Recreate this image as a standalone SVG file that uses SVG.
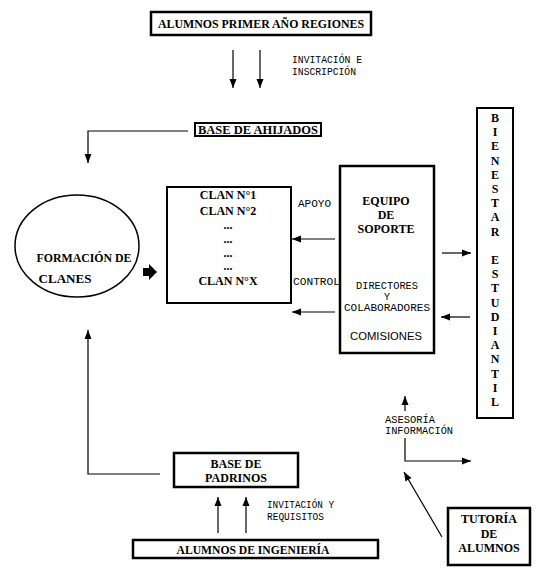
<svg xmlns="http://www.w3.org/2000/svg" width="541" height="575" viewBox="0 0 541 575">
<defs>
<marker id="ah" markerUnits="userSpaceOnUse" markerWidth="10" markerHeight="10" viewBox="0 0 10 10" refX="9" refY="5" orient="auto">
<path d="M0,1.5 L9,5 L0,8.5 Z" fill="#000"/>
</marker>
<style>
.box{fill:#fff;stroke:#000;stroke-width:2.5}
.thin{fill:#fff;stroke:#000;stroke-width:2}
.b{font-family:"Liberation Serif",serif;font-weight:bold;font-size:12px;fill:#000;text-anchor:middle}
.m{font-family:"Liberation Mono",monospace;font-size:10px;fill:#000}
.r{font-family:"Liberation Sans",sans-serif;font-size:11.5px;fill:#000;text-anchor:middle}
.c{fill:none;stroke:#000;stroke-width:1.2;marker-end:url(#ah)}
</style>
</defs>
<rect width="541" height="575" fill="#fff"/>

<g id="alumnos-primer">
<rect class="box" x="151" y="12" width="220" height="23"/>
<text class="b" x="261" y="28" textLength="206" lengthAdjust="spacingAndGlyphs">ALUMNOS PRIMER AÑO REGIONES</text>
</g>

<g id="base-ahijados">
<rect class="thin" x="195" y="123" width="126" height="13"/>
<text class="b" x="258" y="134" font-size="11" textLength="120" lengthAdjust="spacingAndGlyphs">BASE DE AHIJADOS</text>
</g>

<g id="formacion">
<ellipse cx="77" cy="246" rx="62" ry="51" fill="#fff" stroke="#000" stroke-width="1.5"/>
<text class="b" x="84" y="262" text-anchor="middle" textLength="95" lengthAdjust="spacingAndGlyphs">FORMACIÓN DE</text>
<text class="b" x="65" y="283" textLength="53" lengthAdjust="spacingAndGlyphs">CLANES</text>
</g>

<g id="clanes">
<rect class="thin" x="167" y="187" width="124" height="116"/>
<text class="b" x="228" y="199">CLAN N°1</text>
<text class="b" x="228" y="215">CLAN N°2</text>
<text class="b" x="228" y="229">...</text>
<text class="b" x="228" y="243">...</text>
<text class="b" x="228" y="257">...</text>
<text class="b" x="228" y="270">...</text>
<text class="b" x="228" y="285">CLAN N°X</text>
</g>

<g id="equipo">
<rect class="box" x="340" y="166" width="94" height="187"/>
<text class="b" x="386" y="205">EQUIPO</text>
<text class="b" x="386" y="219">DE</text>
<text class="b" x="386" y="233">SOPORTE</text>
<text class="m" x="387" y="289" text-anchor="middle" font-size="9.5" textLength="62" lengthAdjust="spacingAndGlyphs">DIRECTORES</text>
<text class="m" x="387" y="300" text-anchor="middle" font-size="9.5">Y</text>
<text class="m" x="387" y="311" text-anchor="middle" font-size="9.5" textLength="86" lengthAdjust="spacingAndGlyphs">COLABORADORES</text>
<text class="r" x="386" y="340" textLength="72" lengthAdjust="spacingAndGlyphs">COMISIONES</text>
</g>

<g id="bienestar">
<rect class="thin" x="477" y="108" width="36" height="310"/>
<g class="b" font-size="11">
<text x="495" y="122">B</text>
<text x="495" y="136">I</text>
<text x="495" y="150">E</text>
<text x="495" y="165">N</text>
<text x="495" y="179">E</text>
<text x="495" y="193">S</text>
<text x="495" y="207">T</text>
<text x="495" y="221">A</text>
<text x="495" y="236">R</text>
<text x="495" y="264">E</text>
<text x="495" y="278">S</text>
<text x="495" y="292">T</text>
<text x="495" y="307">U</text>
<text x="495" y="321">D</text>
<text x="495" y="335">I</text>
<text x="495" y="349">A</text>
<text x="495" y="363">N</text>
<text x="495" y="378">T</text>
<text x="495" y="392">I</text>
<text x="495" y="406">L</text>
</g>
</g>

<g id="base-padrinos">
<rect class="box" x="174" y="453" width="124" height="34"/>
<text class="b" x="236" y="468">BASE DE</text>
<text class="b" x="236" y="482">PADRINOS</text>
</g>

<g id="alumnos-ingenieria">
<rect class="box" x="133" y="540" width="245" height="18"/>
<text class="b" x="253" y="554" textLength="153" lengthAdjust="spacingAndGlyphs">ALUMNOS DE INGENIERÍA</text>
</g>

<g id="tutoria">
<rect class="box" x="448" y="508" width="82" height="57"/>
<text class="b" x="489" y="523">TUTORÍA</text>
<text class="b" x="489" y="538">DE</text>
<text class="b" x="489" y="552">ALUMNOS</text>
</g>

<g id="connectors">
<path class="c" d="M233,50 V88"/>
<path class="c" d="M260,50 V88"/>
<path class="c" d="M188,131 H88 V163"/>
<path class="c" d="M335,239 H292"/>
<path class="c" d="M335,312 H292"/>
<path class="c" d="M442,253 H471"/>
<path class="c" d="M470,317 H441"/>
<path class="c" d="M160,474 H88 V330"/>
<path class="c" d="M218,533 V497"/>
<path class="c" d="M246,533 V497"/>
<path class="c" d="M405,411 V396"/>
<path class="c" d="M405,438 V461 H471"/>
<path class="c" d="M442,537 L404,472"/>
<polygon points="143,268 149,268 149,264 157,272 149,280 149,276 143,276" fill="#000"/>
</g>

<g id="labels">
<text class="m" x="292" y="63" textLength="70" lengthAdjust="spacingAndGlyphs">INVITACIÓN E</text>
<text class="m" x="292" y="75" textLength="64" lengthAdjust="spacingAndGlyphs">INSCRIPCIÓN</text>
<text class="m" x="298" y="207" textLength="33" lengthAdjust="spacingAndGlyphs">APOYO</text>
<text class="m" x="293" y="285" textLength="47" lengthAdjust="spacingAndGlyphs">CONTROL</text>
<text class="m" x="385" y="423" textLength="50" lengthAdjust="spacingAndGlyphs">ASESORÍA</text>
<text class="m" x="385" y="434" textLength="68" lengthAdjust="spacingAndGlyphs">INFORMACIÓN</text>
<text class="m" x="267" y="508" textLength="67" lengthAdjust="spacingAndGlyphs">INVITACIÓN Y</text>
<text class="m" x="267" y="520" textLength="57" lengthAdjust="spacingAndGlyphs">REQUISITOS</text>
</g>
</svg>
